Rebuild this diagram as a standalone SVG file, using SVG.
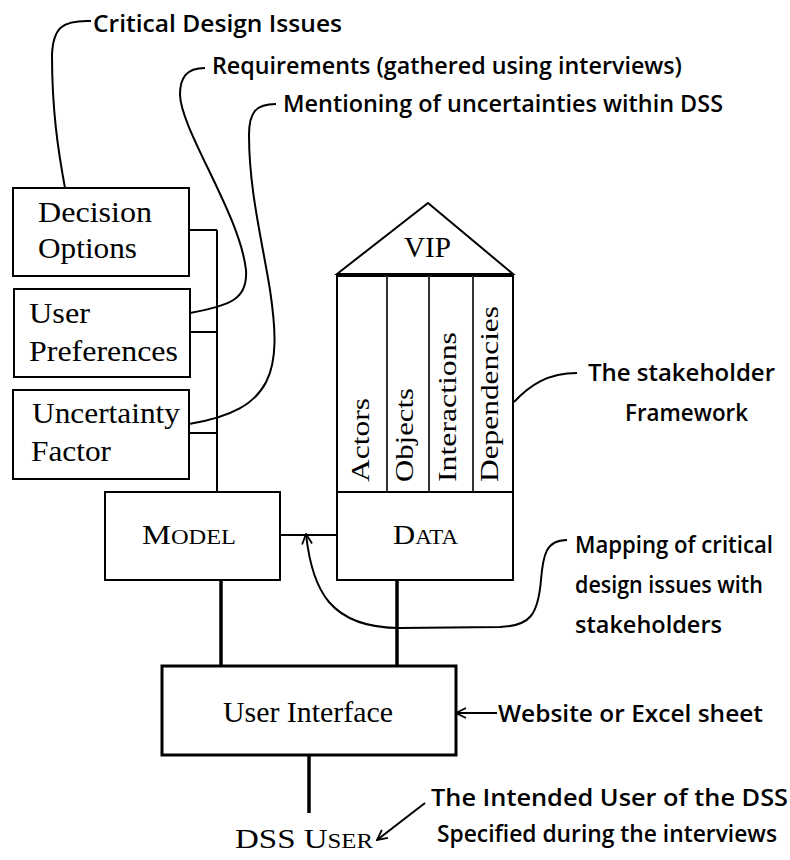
<svg xmlns="http://www.w3.org/2000/svg" width="790" height="860" viewBox="0 0 790 860">
  <defs>
    <style>
      .box { fill: #fff; stroke: #000; stroke-width: 2; }
      .thick { fill: #fff; stroke: #000; stroke-width: 3; }
      .wire { fill: none; stroke: #000; stroke-width: 2; }
      .bus { fill: none; stroke: #000; stroke-width: 3.5; }
      .note { fill: none; stroke: #000; stroke-width: 2; }
      .col { stroke: #333; stroke-width: 2; }
      .serif { font-family: "Liberation Serif", "DejaVu Serif", serif; fill: #000; }
      .hand { font-family: "Open Sans", "Lato", sans-serif; font-size: 24px; font-weight: 600; fill: #000; }
    </style>
    <marker id="openArrow" viewBox="0 0 12 12" refX="11" refY="6" markerWidth="12" markerHeight="12" markerUnits="userSpaceOnUse" orient="auto">
      <path d="M1,1 L11,6 L1,11" fill="none" stroke="#000" stroke-width="1.8"/>
    </marker>
  </defs>
  <rect width="790" height="860" fill="#fff"/>

  <!-- connectors -->
  <g id="connectors">
    <!-- bus collecting the three inputs into the model -->
    <path class="wire" d="M217,230 V492"/>
    <path class="wire" d="M189,230 H217"/>
    <path class="wire" d="M190,332 H217"/>
    <path class="wire" d="M189,433 H217"/>
    <!-- model to data -->
    <path class="wire" d="M280,535 H338"/>
    <!-- model and data to user interface -->
    <path class="bus" d="M221,580 V666"/>
    <path class="bus" d="M397,580 V666"/>
    <!-- user interface to user -->
    <path class="bus" d="M309,755 V813"/>
  </g>

  <!-- nodes -->
  <g id="decision-options">
    <rect class="box" x="13" y="188" width="176" height="88"/>
    <text class="serif" x="38" y="222" font-size="30" textLength="114" lengthAdjust="spacingAndGlyphs">Decision</text>
    <text class="serif" x="38" y="258" font-size="30" textLength="99" lengthAdjust="spacingAndGlyphs">Options</text>
  </g>
  <g id="user-preferences">
    <rect class="box" x="14" y="289" width="176" height="88"/>
    <text class="serif" x="29" y="323" font-size="30" textLength="61" lengthAdjust="spacingAndGlyphs">User</text>
    <text class="serif" x="29" y="361" font-size="30" textLength="149" lengthAdjust="spacingAndGlyphs">Preferences</text>
  </g>
  <g id="uncertainty-factor">
    <rect class="box" x="13" y="390" width="176" height="89"/>
    <text class="serif" x="32" y="423" font-size="30" textLength="148" lengthAdjust="spacingAndGlyphs">Uncertainty</text>
    <text class="serif" x="31" y="461" font-size="30" textLength="80" lengthAdjust="spacingAndGlyphs">Factor</text>
  </g>
  <g id="model">
    <rect class="box" x="105" y="492" width="175" height="88"/>
    <text class="serif" x="142" y="544" font-size="28" textLength="94" lengthAdjust="spacingAndGlyphs">M<tspan font-size="21">ODEL</tspan></text>
  </g>
  <g id="vip">
    <path class="box" d="M337,274 L428,203 L513,274 Z"/>
    <text class="serif" x="404" y="257" font-size="29" textLength="47" lengthAdjust="spacingAndGlyphs">VIP</text>
    <rect class="box" x="337" y="276" width="176" height="216"/>
    <line class="col" x1="387" y1="276" x2="387" y2="492"/>
    <line class="col" x1="429" y1="276" x2="429" y2="492"/>
    <line class="col" x1="473" y1="276" x2="473" y2="492"/>
    <text class="serif" font-size="26" transform="translate(369,482) rotate(-90)" textLength="84" lengthAdjust="spacingAndGlyphs">Actors</text>
    <text class="serif" font-size="26" transform="translate(413,482) rotate(-90)" textLength="94" lengthAdjust="spacingAndGlyphs">Objects</text>
    <text class="serif" font-size="26" transform="translate(456,482) rotate(-90)" textLength="150" lengthAdjust="spacingAndGlyphs">Interactions</text>
    <text class="serif" font-size="26" transform="translate(498,482) rotate(-90)" textLength="176" lengthAdjust="spacingAndGlyphs">Dependencies</text>
  </g>
  <g id="data">
    <rect class="box" x="337" y="492" width="176" height="88"/>
    <text class="serif" x="393" y="544" font-size="28" textLength="65" lengthAdjust="spacingAndGlyphs">D<tspan font-size="21">ATA</tspan></text>
  </g>
  <g id="user-interface">
    <rect class="thick" x="162" y="666" width="294" height="89"/>
    <text class="serif" x="223" y="722" font-size="29" textLength="170" lengthAdjust="spacingAndGlyphs">User Interface</text>
  </g>
  <g id="dss-user">
    <text class="serif" x="235" y="848" font-size="28" textLength="138" lengthAdjust="spacingAndGlyphs">DSS U<tspan font-size="21">SER</tspan></text>
  </g>

  <!-- annotations -->
  <g id="notes">
    <path class="note" d="M91,21 C62,20 53,28 52,55 C52,110 58,150 65,188"/>
    <text class="hand" x="93" y="32" textLength="249" lengthAdjust="spacingAndGlyphs">Critical Design Issues</text>

    <path class="note" d="M205,68 C186,68 180,78 180,95 C181,130 240,215 246,270 C248,300 230,305 190,313"/>
    <text class="hand" x="212" y="74" textLength="470" lengthAdjust="spacingAndGlyphs">Requirements (gathered using interviews)</text>

    <path class="note" d="M276,104 C256,104 249,112 249,135 C249,190 262,240 270,290 C282,370 275,410 189,424"/>
    <text class="hand" x="283" y="112" textLength="440" lengthAdjust="spacingAndGlyphs">Mentioning of uncertainties within DSS</text>

    <path class="note" d="M577,373 C548,373 530,385 514,402"/>
    <text class="hand" x="588" y="381" textLength="187" lengthAdjust="spacingAndGlyphs">The stakeholder</text>
    <text class="hand" x="625" y="421" textLength="123" lengthAdjust="spacingAndGlyphs">Framework</text>

    <path class="note" marker-end="url(#openArrow)" d="M567,540 C546,540 543,555 541,580 C538,615 530,626 500,627 L400,628 C330,628 312,590 306,534"/>
    <text class="hand" x="575" y="553" textLength="198" lengthAdjust="spacingAndGlyphs">Mapping of critical</text>
    <text class="hand" x="575" y="593" textLength="188" lengthAdjust="spacingAndGlyphs">design issues with</text>
    <text class="hand" x="575" y="633" textLength="147" lengthAdjust="spacingAndGlyphs">stakeholders</text>

    <path class="note" marker-end="url(#openArrow)" d="M497,713 H456"/>
    <text class="hand" x="498" y="722" textLength="265" lengthAdjust="spacingAndGlyphs">Website or Excel sheet</text>

    <path class="note" marker-end="url(#openArrow)" d="M425,803 L377,840"/>
    <text class="hand" x="431" y="806" textLength="357" lengthAdjust="spacingAndGlyphs">The Intended User of the DSS</text>
    <text class="hand" x="437" y="842" font-size="22" textLength="340" lengthAdjust="spacingAndGlyphs">Specified during the interviews</text>
  </g>
</svg>
